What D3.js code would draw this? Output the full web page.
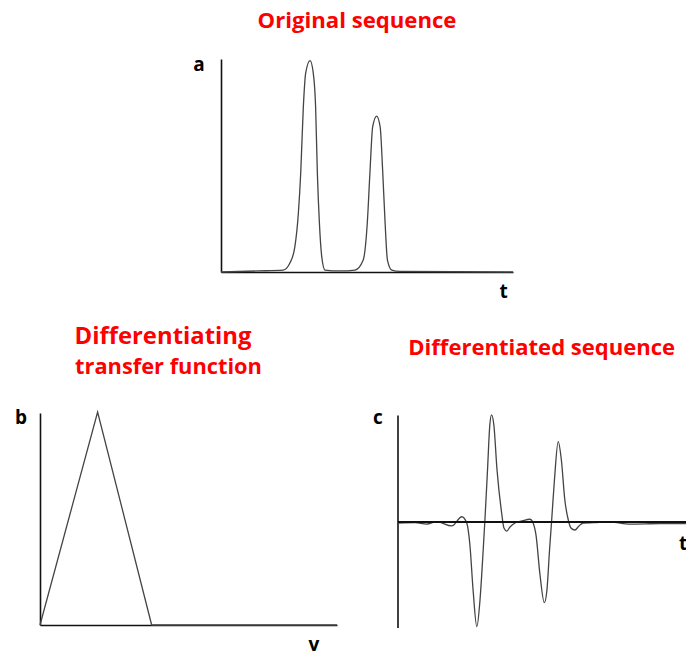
<!DOCTYPE html>
<html>
<head>
<meta charset="utf-8">
<script src="https://cdn.jsdelivr.net/npm/d3@7/dist/d3.min.js"></script>
<style>
  html, body { margin: 0; padding: 0; background: #fff; overflow: hidden; }
  svg { display: block; }
  .title { font-family: "Open Sans", sans-serif; font-weight: 700; fill: #ff0000; }
  .lbl { font-family: "Open Sans", sans-serif; font-weight: 700; fill: #000; font-size: 19px; }
</style>
</head>
<body>
<svg id="chart" width="686" height="657"></svg>
<script>
// ---- Panel a: original sequence (t, amplitude) ----
const seqT = [0, 12.7, 21.3, 23.6, 25.3, 26.5, 27.3, 28.2, 29.0, 30.5, 31.6, 32.4, 33.0, 33.7, 34.5, 35.6, 40.8,
              45.9, 48.7, 50.1, 51.0, 51.95, 53.3, 54.5, 55.4, 56.2, 57.0, 58.5, 61.3, 100];
const seqA = [0, 0.5, 0.9, 4.2, 11.9, 27.7, 46.5, 77.6, 93.4, 99.2, 93.4, 77.6, 46.5, 23.0, 7.2, 0.9, 0.5,
              0.9, 5.6, 23.0, 46.5, 68.2, 73.2, 68.2, 46.5, 23.0, 5.6, 0.9, 0.3, 0];

// ---- Panel b: differentiating transfer function (v, gain) ----
const tfV = [0, 19.4, 37.6, 100];
const tfG = [0, 100, 0, 0];

// ---- Panel c: differentiated sequence (t, value) ----
const difT = [0.2, 6.1, 10.1, 13.6, 18.8, 22.3, 24.0, 25.1, 26.2, 27.5, 28.6, 29.5, 30.3, 31.2, 32.0, 32.6, 33.4, 34.5,
              36.1, 36.9, 37.9, 39.0, 40.7, 43.2, 45.9, 47.0, 48.0, 49.4, 50.9, 51.8, 52.7, 53.4, 54.4, 55.7, 56.8,
              58.0, 59.2, 60.1, 61.5, 62.9, 64.4, 67.9, 73.7, 80.6, 91, 100];
const difC = [-1.4, -1.1, -2.4, -0.2, -4.2, 4.5, -1.4, -22.2, -64.6, -99.2, -74, -36.3, 1.4, 48.6, 91, 100.5, 91, 48.6,
              8, -6.1, -9, -5.2, -1.4, 0.5, 2.1, -1.4, -12.7, -50.5, -76.6, -64.6, -26.9, -0.2, 39.2, 75.3, 58,
              20.3, 1.4, -6.1, -8, -4.2, -1.4, -1.1, -0.5, -2.4, -1.9, -1.9];

// ---- Texts ----
const titleTexts = ["Original sequence", "Differentiating", "transfer function", "Differentiated sequence"];
const panelLabels = ["a", "b", "c"];
const axisLabels = ["t", "v", "t"];

const svg = d3.select("#chart");
const axisColor = "#111";
const curveColor = "#444";

function drawAxes(g, x, y, yTop) {
  g.append("g")
    .attr("transform", `translate(${x.range()[0]},0)`)
    .call(d3.axisLeft(d3.scaleLinear().domain([0, 1]).range([y.range()[0], yTop])).tickValues([]).tickSizeOuter(0))
    .call(s => s.select(".domain").attr("stroke", axisColor).attr("stroke-width", 1.6));
}

// Panel a
const xA = d3.scaleLinear().domain([0, 100]).range([221, 513]);
const yA = d3.scaleLinear().domain([0, 100]).range([272, 59]);
const gA = svg.append("g");
gA.append("g").attr("transform", `translate(0,${yA(0)})`)
  .call(d3.axisBottom(xA).tickValues([]).tickSizeOuter(0))
  .call(s => s.select(".domain").attr("stroke", axisColor).attr("stroke-width", 1.6));
drawAxes(gA, xA, yA, 59);
gA.append("path")
  .datum(seqT.map((t, i) => [t, seqA[i]]))
  .attr("fill", "none").attr("stroke", curveColor).attr("stroke-width", 1.3)
  .attr("d", d3.line().x(d => xA(d[0])).y(d => yA(d[1])).curve(d3.curveMonotoneX));

// Panel b
const xB = d3.scaleLinear().domain([0, 100]).range([40, 337]);
const yB = d3.scaleLinear().domain([0, 100]).range([625, 412]);
const gB = svg.append("g");
gB.append("g").attr("transform", `translate(0,${yB(0)})`)
  .call(d3.axisBottom(xB).tickValues([]).tickSizeOuter(0))
  .call(s => s.select(".domain").attr("stroke", axisColor).attr("stroke-width", 1.6));
drawAxes(gB, xB, yB, 413);
gB.append("path")
  .datum(tfV.map((v, i) => [v, tfG[i]]))
  .attr("fill", "none").attr("stroke", curveColor).attr("stroke-width", 1.3)
  .attr("d", d3.line().x(d => xB(d[0])).y(d => yB(d[1])));

// Panel c
const xC = d3.scaleLinear().domain([0, 100]).range([397.5, 686]);
const yC = d3.scaleLinear().domain([-100, 100]).range([627.5, 415.5]);
const gC = svg.append("g");
drawAxes(gC, xC, yC, 415);
gC.append("path")
  .datum(difT.map((t, i) => [t, difC[i]]))
  .attr("fill", "none").attr("stroke", curveColor).attr("stroke-width", 1.3)
  .attr("d", d3.line().x(d => xC(d[0])).y(d => yC(d[1])).curve(d3.curveMonotoneX));
gC.append("g").attr("transform", `translate(0,${yC(0)})`)
  .call(d3.axisBottom(xC).tickValues([]).tickSizeOuter(0))
  .call(s => s.select(".domain").attr("stroke", axisColor).attr("stroke-width", 1.8));

// Titles
const titlePos = [[357, 27.5, 199], [163, 343.5, 177], [168.5, 373.5, 187], [541.7, 355, 267]];
titleTexts.forEach((txt, i) => {
  const [x, y, w] = titlePos[i];
  const t = svg.append("text").attr("class", "title").attr("x", x).attr("y", y)
    .attr("text-anchor", "middle").style("font-size", "21px").text(txt);
  const len = t.node().getComputedTextLength();
  t.style("font-size", (21 * w / len).toFixed(2) + "px");
});

// Panel labels
const panelPos = [[199, 71], [21, 424], [378, 424]];
panelLabels.forEach((txt, i) => {
  svg.append("text").attr("class", "lbl").attr("x", panelPos[i][0]).attr("y", panelPos[i][1])
    .attr("text-anchor", "middle").text(txt);
});
const axisLabelPos = [[503.5, 297.5], [314, 651], [683, 550]];
axisLabels.forEach((txt, i) => {
  svg.append("text").attr("class", "lbl").attr("x", axisLabelPos[i][0]).attr("y", axisLabelPos[i][1])
    .attr("text-anchor", "middle").text(txt);
});
</script>
</body>
</html>
